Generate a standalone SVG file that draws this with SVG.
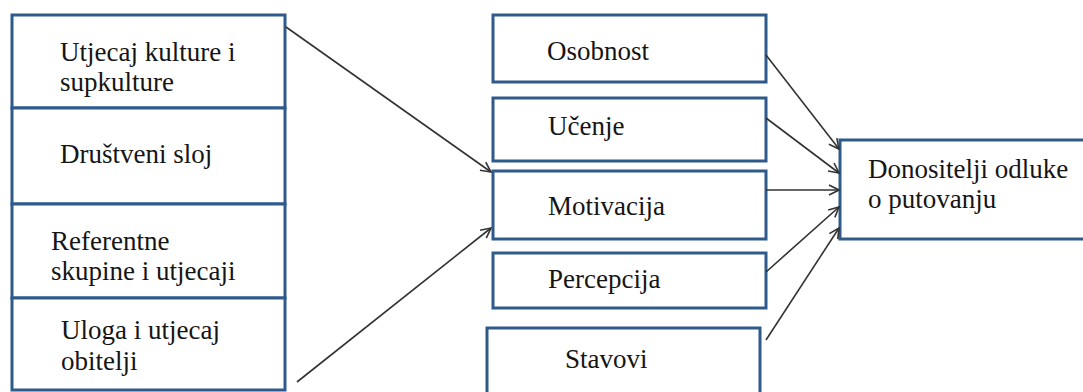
<svg xmlns="http://www.w3.org/2000/svg" width="1083" height="392" viewBox="0 0 1083 392">
<style>
.box{fill:#fff;stroke:#2f5b8c;stroke-width:3}
.t{font-family:'Liberation Serif',serif;font-size:27px;fill:#151515}
.c{stroke:#333;stroke-width:1.6;fill:none}
</style>
<defs>
<marker id="ah" viewBox="0 0 12 12" refX="11" refY="6" markerWidth="12" markerHeight="12" markerUnits="userSpaceOnUse" orient="auto">
<path d="M1,1 L11,6 L1,11" fill="none" stroke="#333" stroke-width="1.6"/>
</marker>
</defs>
<rect width="1083" height="392" fill="#fff"/>
<g id="n-kultura"><rect class="box" x="12" y="15" width="273" height="93"/><text class="t" x="60" y="61">Utjecaj kulture i</text><text class="t" x="60" y="91">supkulture</text></g>
<g id="n-sloj"><rect class="box" x="12" y="108" width="273" height="96"/><text class="t" x="60" y="163">Društveni sloj</text></g>
<g id="n-referentne"><rect class="box" x="12" y="204" width="273" height="94"/><text class="t" x="51" y="250">Referentne</text><text class="t" x="51" y="280">skupine i utjecaji</text></g>
<g id="n-obitelj"><rect class="box" x="12" y="298" width="273" height="92"/><text class="t" x="61" y="339">Uloga i utjecaj</text><text class="t" x="61" y="370">obitelji</text></g>
<g id="n-osobnost"><rect class="box" x="493" y="15" width="273" height="67"/><text class="t" x="547" y="60">Osobnost</text></g>
<g id="n-ucenje"><rect class="box" x="493" y="98" width="273" height="63"/><text class="t" x="548" y="135">Učenje</text></g>
<g id="n-motivacija"><rect class="box" x="493" y="171" width="273" height="68"/><text class="t" x="548" y="215">Motivacija</text></g>
<g id="n-percepcija"><rect class="box" x="493" y="253" width="273" height="55"/><text class="t" x="548" y="288">Percepcija</text></g>
<g id="n-stavovi"><rect class="box" x="487" y="328" width="273" height="80"/><text class="t" x="565" y="368">Stavovi</text></g>
<g id="n-donositelji"><rect class="box" x="840" y="140" width="260" height="99"/><text class="t" x="868" y="178">Donositelji odluke</text><text class="t" x="868" y="208">o putovanju</text></g>
<g id="connectors">
<line class="c" x1="286" y1="27" x2="491" y2="172" marker-end="url(#ah)"/>
<line class="c" x1="297" y1="382" x2="491" y2="228" marker-end="url(#ah)"/>
<line class="c" x1="766" y1="55" x2="839" y2="149" marker-end="url(#ah)"/>
<line class="c" x1="766" y1="118" x2="839" y2="173" marker-end="url(#ah)"/>
<line class="c" x1="766" y1="190" x2="839" y2="190" marker-end="url(#ah)"/>
<line class="c" x1="766" y1="272" x2="839" y2="207" marker-end="url(#ah)"/>
<line class="c" x1="766" y1="340" x2="839" y2="228" marker-end="url(#ah)"/>
</g>
</svg>
